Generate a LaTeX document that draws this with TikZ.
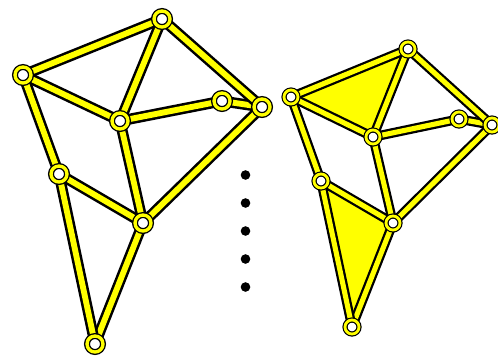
\documentclass[tikz,border=0pt]{standalone}
\usetikzlibrary{backgrounds}
\definecolor{barfill}{RGB}{255,255,0}
\tikzset{
    bar/.style={draw=black, line width=1.9pt, double=barfill, double distance=4.4pt},
    thinbar/.style={draw=black, line width=1.7pt, double=barfill, double distance=3.8pt},
    joint/.style={circle, draw=black, fill=white, line width=1pt, double=barfill, double distance=2.5pt, inner sep=0pt, minimum size=12pt},
    thinjoint/.style={circle, draw=black, fill=white, line width=0.9pt, double=barfill, double distance=2.1pt, inner sep=0pt, minimum size=10.5pt},
    dot/.style={circle, fill=black, inner sep=0pt, minimum size=7.2pt}
}
\begin{document}
\begin{tikzpicture}[x=0.75pt, y=-0.75pt]
    \useasboundingbox (0,0) rectangle (498,355);

    % first truss
    \node[joint] (A) at (162, 19) {};
    \node[joint] (B) at (23, 75) {};
    \node[joint] (C) at (120, 121) {};
    \node[joint] (D) at (222, 101) {};
    \node[joint] (E) at (262, 107) {};
    \node[joint] (F) at (59, 174) {};
    \node[joint] (G) at (143, 223) {};
    \node[joint] (H) at (95, 344) {};

    % second truss
    \node[thinjoint] (A2) at (408, 49) {};
    \node[thinjoint] (B2) at (291, 97) {};
    \node[thinjoint] (C2) at (373, 137) {};
    \node[thinjoint] (D2) at (459, 119) {};
    \node[thinjoint] (E2) at (492, 125) {};
    \node[thinjoint] (F2) at (321, 181) {};
    \node[thinjoint] (G2) at (393, 223) {};
    \node[thinjoint] (H2) at (352, 327) {};

    \begin{scope}[on background layer]
        \fill[barfill] (A2.center) -- (B2.center) -- (C2.center) -- cycle;
        \fill[barfill] (F2.center) -- (G2.center) -- (H2.center) -- cycle;

        \draw[bar] (D.center) -- (E.center);
        \draw[bar] (A.center) -- (B.center);
        \draw[bar] (A.center) -- (E.center);
        \draw[bar] (A.center) -- (C.center);
        \draw[bar] (B.center) -- (C.center);
        \draw[bar] (C.center) -- (D.center);
        \draw[bar] (C.center) -- (G.center);
        \draw[bar] (E.center) -- (G.center);
        \draw[bar] (B.center) -- (F.center);
        \draw[bar] (F.center) -- (G.center);
        \draw[bar] (G.center) -- (H.center);
        \draw[bar] (F.center) -- (H.center);

        \draw[thinbar] (D2.center) -- (E2.center);
        \draw[thinbar] (A2.center) -- (B2.center);
        \draw[thinbar] (A2.center) -- (E2.center);
        \draw[thinbar] (A2.center) -- (C2.center);
        \draw[thinbar] (B2.center) -- (C2.center);
        \draw[thinbar] (C2.center) -- (D2.center);
        \draw[thinbar] (C2.center) -- (G2.center);
        \draw[thinbar] (E2.center) -- (G2.center);
        \draw[thinbar] (B2.center) -- (F2.center);
        \draw[thinbar] (F2.center) -- (G2.center);
        \draw[thinbar] (G2.center) -- (H2.center);
        \draw[thinbar] (F2.center) -- (H2.center);
    \end{scope}

    \node[dot] (d1) at (245.5, 175) {};
    \node[dot] (d2) at (245.5, 203) {};
    \node[dot] (d3) at (245.5, 231) {};
    \node[dot] (d4) at (245.5, 259) {};
    \node[dot] (d5) at (245.5, 287) {};
\end{tikzpicture}
\end{document}
